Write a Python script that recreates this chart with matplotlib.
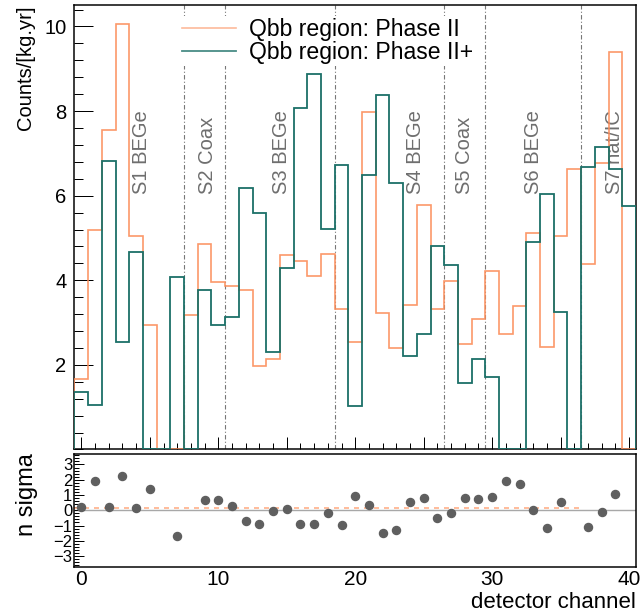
"""Per-channel background rate in the Qbb window, Phase II vs Phase II+,
with the per-channel significance of the difference underneath.

Writes out.png.
"""

import numpy as np
import matplotlib

matplotlib.use("Agg")
import matplotlib.pyplot as plt
from matplotlib.lines import Line2D
from matplotlib.ticker import FixedLocator, MultipleLocator

plt.rcParams["font.family"] = ["Liberation Sans", "DejaVu Sans"]

_ORANGE = "#fc8d59"
_TEAL = "#1b7068"
_GREY_TXT = "#6e6e6e"
_DOT = "#5f5f5f"

# counts/(kg yr) per detector channel 0..40
channels = np.arange(41)
phase2 = [1.67, 5.20, 7.55, 10.06, 5.05, 2.94, 0.0, 0.0, 3.17, 4.86,
          3.95, 3.86, 3.76, 1.97, 2.13, 4.59, 4.45, 4.10, 4.63, 3.31,
          2.54, 7.97, 3.23, 2.40, 3.42, 5.77, 3.32, 3.99, 2.49, 3.09,
          4.22, 2.74, 3.40, 5.12, 2.42, 5.05, 6.62, 4.39, 6.77, 9.40,
          0.0]
phase2plus = [1.35, 1.04, 6.81, 2.54, 4.66, 0.0, 0.0, 4.08, 0.0, 3.76,
              2.95, 3.13, 6.18, 5.58, 2.30, 4.30, 8.07, 8.87, 5.22, 6.72,
              1.03, 6.48, 8.37, 6.31, 2.21, 2.73, 4.80, 4.35, 1.57, 2.15,
              1.71, 0.0, 0.0, 4.91, 6.05, 3.25, 0.0, 6.68, 7.15, 6.62,
              5.75]
nan = np.nan
nsigma = [0.20, 1.93, 0.20, 2.24, 0.13, 1.41, nan, -1.66, nan, 0.64,
          0.70, 0.26, -0.70, -0.90, -0.07, 0.09, -0.90, -0.90, -0.17, -0.96,
          0.92, 0.35, -1.51, -1.29, 0.53, 0.79, -0.48, -0.20, 0.82, 0.77,
          0.90, 1.95, 1.71, 0.05, -1.16, 0.55, nan, -1.09, -0.13, 1.08,
          nan]
nsigma_mean = 0.16
nsigma_mean_range = (-0.5, 36.5)

# detector string boundaries and names
string_edges = [7.5, 10.5, 18.5, 26.5, 29.5, 36.5]
string_names = ["S1 BEGe", "S2 Coax", "S3 BEGe", "S4 BEGe", "S5 Coax", "S6 BEGe", "S7 nat/IC"]
string_label_x = [4.4, 9.2, 14.6, 24.4, 28.0, 33.0, 38.9]

series_labels = ["Qbb region: Phase II", "Qbb region: Phase II+"]

PX = 72 / 100  # points per pixel at dpi 100

fig = plt.figure(figsize=(6.4, 6.16), dpi=100)
fig.patch.set_facecolor("white")
ax = fig.add_axes([0.1164, 0.2703, 0.8773, 0.7211])
axr = fig.add_axes([0.1164, 0.0800, 0.8773, 0.1833])

edges = np.append(channels - 0.5, channels[-1] + 0.5)

# --- top panel: rates ---
ax.stairs(phase2, edges, baseline=0, color=_ORANGE, lw=1.2, alpha=0.9, zorder=3)
ax.stairs(phase2plus, edges, baseline=0, color=_TEAL, lw=1.3, zorder=3)
for xe in string_edges:
    ax.axvline(xe, color="#777777", lw=0.8, ls=(0, (4, 2, 1, 2)), zorder=1)
for xs, name in zip(string_label_x, string_names):
    ax.text(xs, 6.05, name, rotation=90, ha="center", va="bottom",
            color=_GREY_TXT, fontsize=14.5, zorder=2)

ax.set_xlim(-0.5, 40.5)
ax.set_ylim(0, 10.5)
ax.xaxis.set_major_locator(MultipleLocator(5))
ax.xaxis.set_minor_locator(MultipleLocator(1))
ax.yaxis.set_major_locator(FixedLocator([2, 4, 6, 8, 10]))
ax.yaxis.set_minor_locator(MultipleLocator(0.4))
ax.tick_params(axis="x", which="both", direction="in", labelbottom=False, width=1 * PX)
ax.tick_params(axis="x", which="major", length=12 * PX)
ax.tick_params(axis="x", which="minor", length=6 * PX)
ax.tick_params(axis="y", which="both", direction="in", width=1 * PX, labelsize=14.5, pad=8 * PX)
ax.tick_params(axis="y", which="major", length=19 * PX)
ax.tick_params(axis="y", which="minor", length=9 * PX)
for sp in ax.spines.values():
    sp.set_linewidth(1.5 * PX)

handles = [Line2D([], [], color=_ORANGE, lw=1.2, alpha=0.6),
           Line2D([], [], color=_TEAL, lw=1.3, alpha=0.8)]
leg = ax.legend(handles, series_labels, loc="upper left", bbox_to_anchor=(0.1868, 0.977),
                borderaxespad=0, borderpad=0.1, fontsize=16.6, handlelength=2.35,
                handletextpad=0.57, labelspacing=0.0, frameon=True, fancybox=False,
                framealpha=1, facecolor="white", edgecolor="none")
leg.set_zorder(5)

# --- bottom panel: significance ---
axr.axhline(0, color="#a8a8a8", lw=1.0, zorder=1)
axr.hlines(nsigma_mean, *nsigma_mean_range, color="#ffb08a", lw=1.2, ls=(0, (3, 3)), zorder=2)
axr.plot(channels, nsigma, "o", color=_DOT, ms=5.8, zorder=3)
axr.set_xlim(-0.5, 40.5)
axr.set_ylim(-3.7, 3.7)
axr.xaxis.set_major_locator(FixedLocator([0, 10, 20, 30, 40]))
axr.yaxis.set_major_locator(MultipleLocator(1))
axr.yaxis.set_minor_locator(MultipleLocator(0.2))
axr.tick_params(axis="x", length=0, labelsize=15, pad=3 * PX)
axr.tick_params(axis="y", which="both", direction="in", width=1 * PX, labelsize=12, pad=2 * PX)
axr.tick_params(axis="y", which="major", length=10 * PX)
axr.tick_params(axis="y", which="minor", length=5 * PX)
for sp in axr.spines.values():
    sp.set_linewidth(1.5 * PX)

fig.text(25 / 640, 1 - 5 / 616, "Counts/[kg.yr]", rotation=90, ha="center", va="top", fontsize=14.5)
fig.text(27 / 640, 1 - 453 / 616, "n sigma", rotation=90, ha="center", va="top", fontsize=17)
fig.text(636 / 640, 1 - 603 / 616, "detector channel", ha="right", va="center", fontsize=16)

fig.savefig("out.png", dpi=100, facecolor="white")
